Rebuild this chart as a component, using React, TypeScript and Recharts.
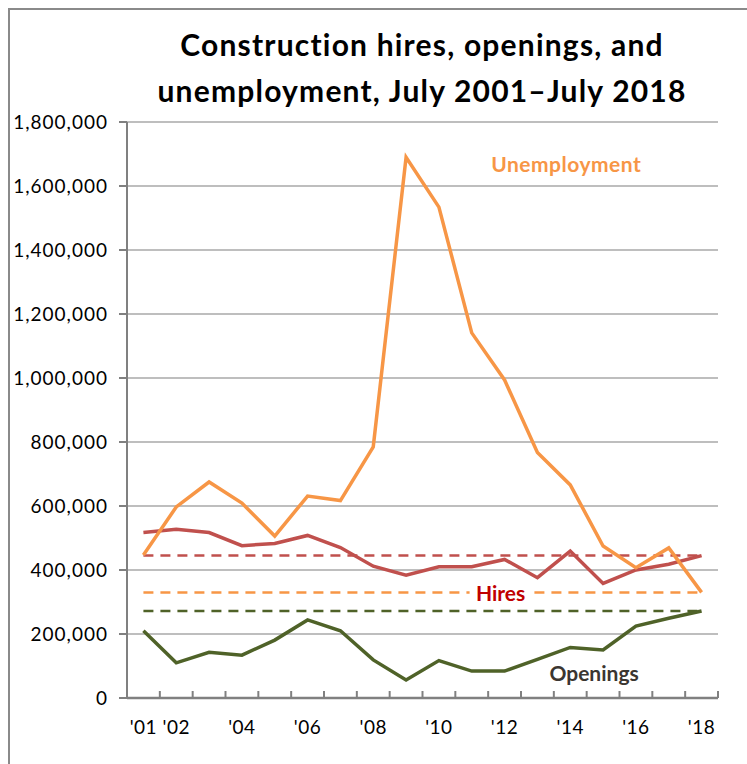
import React from "react";
import {
  LineChart,
  Line,
  XAxis,
  YAxis,
  CartesianGrid,
  ReferenceLine,
  ReferenceDot,
} from "recharts";

const years = [2001, 2002, 2003, 2004, 2005, 2006, 2007, 2008, 2009, 2010, 2011, 2012, 2013, 2014, 2015, 2016, 2017, 2018];
const xTickLabels = ["'01", "'02", "", "'04", "", "'06", "", "'08", "", "'10", "", "'12", "", "'14", "", "'16", "", "'18"];

const unemployment = [447000, 597000, 675000, 609000, 506000, 631000, 617000, 785000, 1690000, 1534000, 1141000, 994000, 767000, 666000, 475000, 407000, 469000, 330000];
const hires = [517000, 527000, 517000, 476000, 483000, 508000, 470000, 412000, 384000, 410000, 410000, 433000, 376000, 459000, 358000, 400000, 418000, 445000];
const openings = [210000, 110000, 143000, 134000, 181000, 244000, 210000, 119000, 56000, 117000, 84000, 84000, 121000, 158000, 150000, 225000, 249000, 272000];

const yTicks = [0, 200000, 400000, 600000, 800000, 1000000, 1200000, 1400000, 1600000, 1800000];

const data = years.map((year, i) => ({
  year,
  unemployment: unemployment[i],
  hires: hires[i],
  openings: openings[i],
}));

const ORANGE = "#F79646";
const RED = "#C0504D";
const GREEN = "#4F6228";
const AXIS = "#808080";
const FONT = "Lato, 'Open Sans', sans-serif";

const first = years[0];
const last = years[years.length - 1];
const latest = (arr: number[]) => arr[arr.length - 1];

// half a category band, so points sit in the middle of each band like Excel does
const HALF_BAND = 591 / years.length / 2;

// Excel style: tick marks sit between categories and point inwards, labels centred on the category
function YearTick(props: any) {
  const { x, y, index } = props;
  const isLast = index === years.length - 1;
  return (
    <g>
      <line x1={x - HALF_BAND} y1={y} x2={x - HALF_BAND} y2={y - 7} stroke={AXIS} strokeWidth={2} />
      {isLast && <line x1={x + HALF_BAND} y1={y} x2={x + HALF_BAND} y2={y - 7} stroke={AXIS} strokeWidth={2} />}
      <text x={x} y={y + 36} textAnchor="middle" fill="#000" fontSize={19} fontFamily={FONT} letterSpacing={0.5}>
        {xTickLabels[index]}
      </text>
    </g>
  );
}

function HiresLabel(props: any) {
  const { viewBox } = props;
  const cx = viewBox.x + viewBox.width / 2 - 4;
  const cy = viewBox.y + viewBox.height / 2;
  return (
    <g>
      <rect x={cx - 31} y={cy - 12} width={62} height={24} fill="#fff" />
      <text x={cx} y={cy} textAnchor="middle" dominantBaseline="central" fill="#C00000" fontSize={21} fontWeight={700} fontFamily={FONT}>
        Hires
      </text>
    </g>
  );
}

export default function App() {
  return (
    <div style={{ position: "fixed", left: 0, top: 0, width: 747, height: 764, overflow: "hidden", background: "#fff", fontFamily: FONT }}>
      <div style={{ position: "absolute", left: 8, top: 8, width: 760, height: 780, borderTop: "2px solid #8a8a8a", borderLeft: "2px solid #8a8a8a" }} />
      <div style={{ position: "absolute", left: 97, top: 21, width: 650, textAlign: "center", fontSize: 30, fontWeight: 700, letterSpacing: 1.2, lineHeight: "46px", color: "#000" }}>
        Construction hires, openings, and
        <br />
        unemployment, July 2001–July 2018
      </div>
      <div style={{ position: "absolute", left: 0, top: 0 }}>
        <LineChart width={747} height={764} data={data} margin={{ top: 122, right: 29, bottom: 0, left: 0 }}>
          <CartesianGrid vertical={false} stroke="#BEBEBE" strokeWidth={2} />
          <XAxis
            dataKey="year"
            type="category"
            height={66}
            padding={{ left: HALF_BAND, right: HALF_BAND }}
            axisLine={{ stroke: AXIS, strokeWidth: 2.5 }}
            tickLine={false}
            tickSize={0}
            tickMargin={0}
            interval={0}
            tick={<YearTick />}
          />
          <YAxis
            width={127}
            domain={[0, 1800000]}
            ticks={yTicks}
            interval={0}
            tickSize={8}
            tickMargin={11}
            axisLine={{ stroke: AXIS, strokeWidth: 2 }}
            tickLine={{ stroke: AXIS, strokeWidth: 2 }}
            tickFormatter={(v: number) => v.toLocaleString("en-US")}
            tick={{ fill: "#000", fontSize: 19, fontFamily: FONT, letterSpacing: 1 }}
          />
          <ReferenceLine segment={[{ x: first, y: latest(hires) }, { x: last, y: latest(hires) }]} stroke={RED} strokeWidth={2.5} strokeDasharray="10 7" />
          <ReferenceLine segment={[{ x: first, y: latest(unemployment) }, { x: last, y: latest(unemployment) }]} stroke={ORANGE} strokeWidth={2.5} strokeDasharray="10 7" />
          <ReferenceLine segment={[{ x: first, y: latest(openings) }, { x: last, y: latest(openings) }]} stroke={GREEN} strokeWidth={2.5} strokeDasharray="10 7" />
          <Line type="linear" dataKey="openings" stroke={GREEN} strokeWidth={3.5} dot={false} isAnimationActive={false} />
          <Line type="linear" dataKey="hires" stroke={RED} strokeWidth={3.5} dot={false} isAnimationActive={false} />
          <Line type="linear" dataKey="unemployment" stroke={ORANGE} strokeWidth={3.5} dot={false} isAnimationActive={false} />
          <ReferenceDot x={2012} y={latest(unemployment)} r={0} fill="none" stroke="none" label={<HiresLabel />} />
          <ReferenceDot
            x={2014}
            y={1666000}
            r={0}
            fill="none"
            stroke="none"
            label={{ value: "Unemployment", position: "center", dx: -4, fill: ORANGE, fontSize: 21, fontWeight: 700, fontFamily: FONT, letterSpacing: 0.5 }}
          />
          <ReferenceDot
            x={2015}
            y={76000}
            r={0}
            fill="none"
            stroke="none"
            label={{ value: "Openings", position: "center", dx: -9, fill: "#3B3631", fontSize: 21, fontWeight: 700, fontFamily: FONT }}
          />
        </LineChart>
      </div>
    </div>
  );
}
